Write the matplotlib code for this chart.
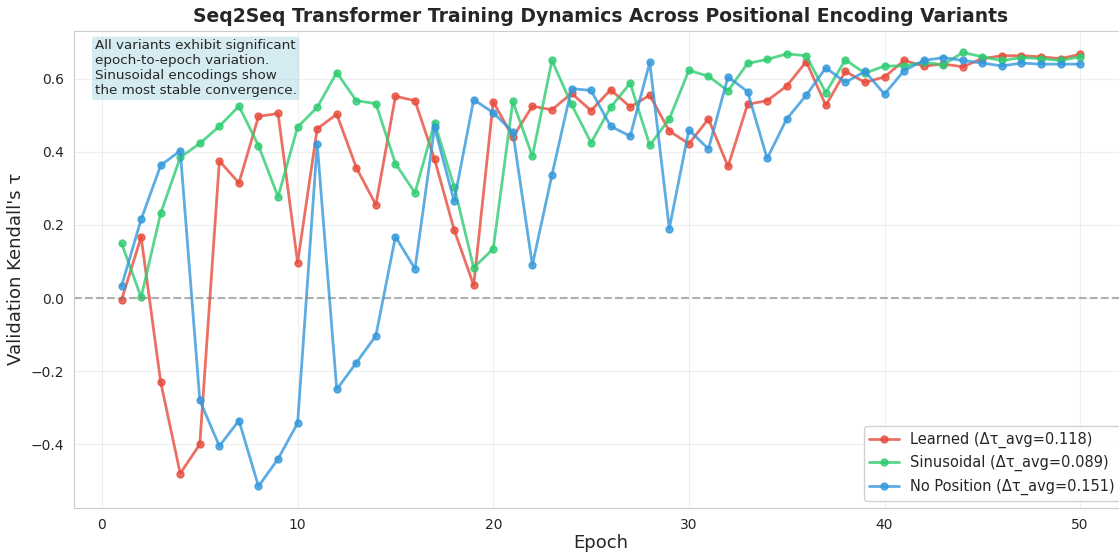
import matplotlib
matplotlib.use('Agg')
import matplotlib.pyplot as plt
import seaborn as sns

epochs = list(range(1, 51))

learned = [-0.005, 0.167, -0.230, -0.480, -0.400, 0.375, 0.315, 0.497, 0.505, 0.097,
           0.463, 0.503, 0.357, 0.255, 0.552, 0.540, 0.380, 0.187, 0.035, 0.537,
           0.440, 0.525, 0.515, 0.560, 0.513, 0.570, 0.523, 0.555, 0.457, 0.422,
           0.490, 0.360, 0.530, 0.540, 0.580, 0.647, 0.527, 0.620, 0.590, 0.605,
           0.650, 0.635, 0.640, 0.633, 0.655, 0.663, 0.663, 0.660, 0.655, 0.667]

sinusoidal = [0.150, 0.002, 0.232, 0.385, 0.423, 0.470, 0.525, 0.417, 0.277, 0.468,
              0.522, 0.617, 0.540, 0.532, 0.368, 0.288, 0.480, 0.305, 0.083, 0.135,
              0.538, 0.388, 0.650, 0.530, 0.425, 0.522, 0.588, 0.418, 0.490, 0.623,
              0.607, 0.567, 0.642, 0.653, 0.668, 0.663, 0.562, 0.652, 0.615, 0.635,
              0.635, 0.645, 0.638, 0.672, 0.660, 0.650, 0.658, 0.655, 0.650, 0.660]

no_position = [0.033, 0.215, 0.363, 0.403, -0.280, -0.405, -0.335, -0.515, -0.440, -0.342,
               0.422, -0.250, -0.177, -0.103, 0.168, 0.080, 0.467, 0.265, 0.543, 0.507,
               0.455, 0.090, 0.337, 0.573, 0.568, 0.470, 0.443, 0.645, 0.190, 0.460,
               0.408, 0.605, 0.565, 0.382, 0.490, 0.555, 0.630, 0.590, 0.620, 0.558,
               0.622, 0.650, 0.658, 0.650, 0.643, 0.635, 0.643, 0.640, 0.640, 0.640]

labels = ['Learned (\u0394\u03c4_avg=0.118)',
          'Sinusoidal (\u0394\u03c4_avg=0.089)',
          'No Position (\u0394\u03c4_avg=0.151)']
colors = ['#e74c3c', '#2ecc71', '#3498db']

sns.set_style('whitegrid')
plt.rcParams['font.family'] = ['DejaVu Sans']

fig = plt.figure(figsize=(11.19, 5.53), dpi=100)
ax = fig.add_axes([0.0658, 0.0814, 0.9423, 0.863])

for vals, lab, c in zip([learned, sinusoidal, no_position], labels, colors):
    ax.plot(epochs, vals, 'o-', color=c, label=lab, linewidth=2, markersize=5, alpha=0.8)

ax.axhline(0, color='gray', linestyle='--', alpha=0.6, linewidth=1.5)

ax.set_title('Seq2Seq Transformer Training Dynamics Across Positional Encoding Variants',
             fontsize=13.5, fontweight='bold', pad=6)
ax.set_xlabel('Epoch', fontsize=13, labelpad=2)
ax.set_ylabel("Validation Kendall's \u03c4", fontsize=13)
ax.tick_params(labelsize=10)
ax.grid(True, alpha=0.3)
for s in ax.spines.values():
    s.set_color('#cccccc')

ax.text(0.02, 0.982, 'All variants exhibit significant\nepoch-to-epoch variation.\n'
        'Sinusoidal encodings show\nthe most stable convergence.',
        transform=ax.transAxes, fontsize=9.7, va='top', ha='left',
        bbox=dict(boxstyle='round,pad=0.2', facecolor='lightblue', alpha=0.5, edgecolor='none'))

ax.legend(loc='lower right', fontsize=10.5, frameon=True, framealpha=0.9)

plt.savefig('out.png', dpi=100)
